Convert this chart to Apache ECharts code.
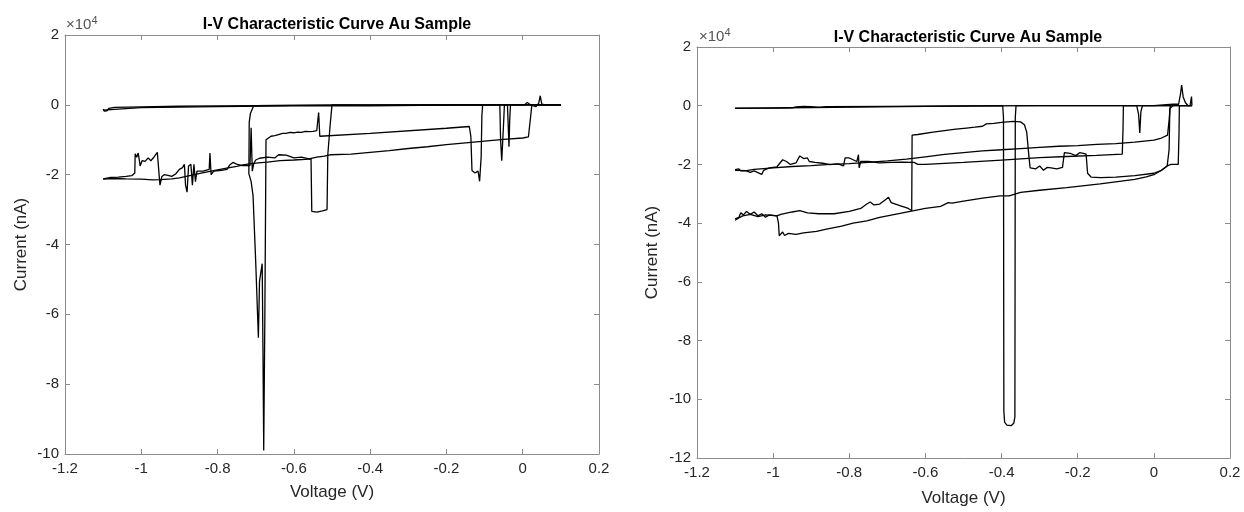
<!DOCTYPE html>
<html><head><meta charset="utf-8">
<script src="https://cdn.jsdelivr.net/npm/echarts@6/dist/echarts.min.js"></script>
<style>html,body{margin:0;padding:0;background:#fff}#c{width:1244px;height:512px}</style>
</head><body><div id="c"></div>
<script>
// Values in units of 1e4 nA (axis shows x10^4), x in volts
const xTicks = [-1.2, -1, -0.8, -0.6, -0.4, -0.2, 0, 0.2];
const leftYTicks = [2, 0, -2, -4, -6, -8, -10];
const rightYTicks = [2, 0, -2, -4, -6, -8, -10, -12];

// ---- Left panel ----
const leftZero1 = [[-1.1,-0.12],[-1.097,-0.18],[-1.09,-0.17],[-1.085,-0.1],[-1.07,-0.07],[-1.0,-0.06],[-0.9,-0.04],[-0.8,-0.03],[-0.7,-0.02],[-0.5,-0.01],[-0.3,0],[-0.06,0],[-0.058,-1.0],[-0.055,-1.6],[-0.052,-1.64],[-0.05,-0.5],[-0.048,0],[-0.04,0],[-0.038,-0.6],[-0.036,-1.2],[-0.034,-0.4],[-0.032,0],[0.0,0],[0.1,0]];
const leftZero2 = [[0.1,0],[0.06,0],[0.05,0.02],[0.046,0.26],[0.042,0.05],[0.035,-0.05],[0.02,0],[0.012,0.07],[0.005,0],[-0.2,-0.01],[-0.4,-0.03],[-0.6,-0.03],[-0.8,-0.05],[-1.0,-0.08],[-1.1,-0.15]];
const leftMid = [[-1.1,-2.12],[-1.08,-2.08],[-1.06,-2.07],[-1.04,-2.05],[-1.025,-2.03],[-1.017,-1.95],[-1.016,-1.4],[-1.012,-1.5],[-1.008,-1.38],[-1.003,-1.75],[-0.998,-1.6],[-0.99,-1.62],[-0.982,-1.52],[-0.975,-1.6],[-0.967,-1.5],[-0.958,-1.36],[-0.953,-1.33],[-0.951,-2.3],[-0.946,-2.05],[-0.94,-2.0],[-0.93,-2.02],[-0.92,-2.05],[-0.91,-1.98],[-0.9,-1.85],[-0.892,-1.8],[-0.887,-1.7],[-0.884,-2.3],[-0.88,-2.5],[-0.876,-1.75],[-0.87,-1.7],[-0.866,-2.3],[-0.862,-1.7],[-0.858,-2.2],[-0.854,-1.9],[-0.85,-1.95],[-0.838,-1.9],[-0.822,-1.85],[-0.82,-1.38],[-0.817,-2.0],[-0.81,-1.9],[-0.79,-1.88],[-0.775,-1.85],[-0.768,-1.72],[-0.76,-1.65],[-0.75,-1.7],[-0.735,-1.74],[-0.715,-1.74],[-0.712,-0.66],[-0.709,-1.9],[-0.705,-1.68],[-0.7,-1.58],[-0.69,-1.53],[-0.67,-1.5],[-0.65,-1.52],[-0.64,-1.43],[-0.62,-1.44],[-0.6,-1.52],[-0.58,-1.5],[-0.56,-1.55],[-0.54,-1.5],[-0.52,-1.47],[-0.505,-1.43],[-0.45,-1.41],[-0.4,-1.36],[-0.35,-1.31],[-0.3,-1.25],[-0.25,-1.2],[-0.2,-1.14],[-0.15,-1.09],[-0.1,-1.04],[-0.05,-0.99],[0.0,-0.95],[0.015,-0.92],[0.019,-0.9],[0.024,0],[0.1,0]];
const leftLow = [[-1.1,-2.13],[-1.07,-2.11],[-1.04,-2.12],[-1.0,-2.13],[-0.97,-2.15],[-0.95,-2.14],[-0.92,-2.12],[-0.9,-2.09],[-0.87,-2.02],[-0.84,-1.95],[-0.8,-1.86],[-0.776,-1.81],[-0.75,-1.76],[-0.73,-1.71],[-0.7,-1.67],[-0.67,-1.64],[-0.636,-1.6],[-0.6,-1.58],[-0.57,-1.56],[-0.555,-1.55],[-0.553,-3.05],[-0.54,-3.07],[-0.525,-3.04],[-0.513,-3.0],[-0.511,-1.43],[-0.505,-0.6],[-0.5,0],[-0.4,-0.01],[-0.2,0],[0.1,0]];
const leftUpper = [[0.1,0],[-0.1,0],[-0.3,-0.01],[-0.5,-0.01],[-0.705,-0.02],[-0.714,-0.25],[-0.717,-0.5],[-0.718,-1.97],[-0.712,-2.2],[-0.707,-2.6],[-0.7,-4.5],[-0.693,-6.67],[-0.69,-5.05],[-0.686,-5.0],[-0.683,-4.55],[-0.681,-7.0],[-0.679,-9.9],[-0.676,-6.0],[-0.673,-1.0],[-0.668,-0.98],[-0.66,-0.9],[-0.65,-0.88],[-0.64,-0.85],[-0.63,-0.82],[-0.62,-0.82],[-0.61,-0.79],[-0.6,-0.8],[-0.59,-0.78],[-0.58,-0.79],[-0.57,-0.76],[-0.56,-0.77],[-0.55,-0.76],[-0.54,-0.74],[-0.537,-0.72],[-0.535,-0.22],[-0.532,-0.9],[-0.528,-0.92],[-0.4,-0.82],[-0.2,-0.67],[-0.14,-0.62],[-0.136,-0.9],[-0.133,-1.88],[-0.125,-1.95],[-0.12,-2.0],[-0.117,-1.9],[-0.113,-2.19],[-0.109,-1.5],[-0.107,-0.3],[-0.105,0],[0.1,0]];

// ---- Right panel ----
const rightZero = [[-1.1,-0.08],[-1.0,-0.08],[-0.95,-0.07],[-0.94,-0.04],[-0.92,-0.02],[-0.9,-0.03],[-0.88,-0.06],[-0.86,-0.03],[-0.7,-0.02],[-0.5,-0.01],[-0.3,0],[-0.045,0],[-0.04,-0.3],[-0.037,-0.93],[-0.034,-0.2],[-0.03,0],[0.05,0],[0.095,0],[0.099,0.31],[0.1,0]];
const rightU = [[0.1,0],[0.09,0],[0.083,0.1],[0.077,0.3],[0.073,0.7],[0.07,0.4],[0.065,0.05],[0.05,0.05],[0.0,0],[-0.2,0],[-0.362,0],[-0.364,-0.4],[-0.365,-10.6],[-0.368,-10.82],[-0.375,-10.9],[-0.386,-10.88],[-0.392,-10.78],[-0.394,-10.4],[-0.395,-0.4],[-0.397,0],[-0.6,-0.02],[-0.9,-0.06],[-1.1,-0.09]];
const rightA = [[-1.1,-2.2],[-1.07,-2.21],[-1.05,-2.17],[-1.0,-2.12],[-0.95,-2.07],[-0.9,-2.04],[-0.85,-2.0],[-0.8,-1.97],[-0.75,-1.93],[-0.7,-1.88],[-0.65,-1.82],[-0.6,-1.74],[-0.55,-1.66],[-0.5,-1.6],[-0.45,-1.54],[-0.4,-1.5],[-0.35,-1.46],[-0.3,-1.42],[-0.25,-1.38],[-0.2,-1.36],[-0.15,-1.32],[-0.1,-1.29],[-0.05,-1.24],[0,-1.17],[0.02,-1.1],[0.036,-1.0],[0.04,-0.5],[0.043,0]];
const rightB = [[-1.1,-2.18],[-1.09,-2.15],[-1.085,-2.22],[-1.07,-2.22],[-1.06,-2.27],[-1.05,-2.22],[-1.04,-2.28],[-1.03,-2.34],[-1.025,-2.2],[-1.01,-2.12],[-0.99,-2.08],[-0.975,-1.84],[-0.965,-1.9],[-0.955,-2.0],[-0.94,-1.95],[-0.93,-1.71],[-0.92,-1.8],[-0.91,-1.78],[-0.905,-1.9],[-0.89,-1.93],[-0.87,-1.96],[-0.85,-2.01],[-0.83,-1.98],[-0.815,-2.05],[-0.811,-1.78],[-0.8,-1.78],[-0.79,-1.84],[-0.78,-1.9],[-0.776,-1.67],[-0.774,-2.12],[-0.77,-1.9],[-0.75,-1.9],[-0.72,-1.95],[-0.69,-1.93],[-0.66,-1.92],[-0.63,-1.93],[-0.62,-2.0],[-0.6,-2.0],[-0.5,-1.93],[-0.4,-1.85],[-0.3,-1.77],[-0.229,-1.73],[-0.15,-1.69],[-0.083,-1.65],[-0.081,-0.8],[-0.08,0],[0.1,0]];
const rightPlateau = [[-1.1,-3.85],[-1.09,-3.8],[-1.085,-3.65],[-1.078,-3.72],[-1.07,-3.6],[-1.06,-3.7],[-1.05,-3.62],[-1.04,-3.75],[-1.03,-3.68],[-1.02,-3.8],[-1.01,-3.72],[-0.99,-3.75],[-0.98,-3.7],[-0.95,-3.62],[-0.93,-3.57],[-0.91,-3.65],[-0.88,-3.68],[-0.84,-3.68],[-0.8,-3.6],[-0.77,-3.5],[-0.754,-3.35],[-0.745,-3.28],[-0.735,-3.38],[-0.72,-3.35],[-0.705,-3.2],[-0.697,-3.12],[-0.69,-3.3],[-0.667,-3.4],[-0.645,-3.5],[-0.636,-3.57],[-0.635,-1.0],[-0.62,-0.98],[-0.58,-0.9],[-0.55,-0.85],[-0.52,-0.8],[-0.492,-0.76],[-0.47,-0.73],[-0.45,-0.7],[-0.445,-0.76],[-0.44,-0.62],[-0.42,-0.6],[-0.4,-0.57],[-0.37,-0.53],[-0.35,-0.55],[-0.34,-0.65],[-0.334,-0.9],[-0.328,-1.75],[-0.325,-2.12],[-0.31,-2.15],[-0.3,-2.05],[-0.29,-2.2],[-0.28,-2.1],[-0.27,-2.12],[-0.255,-2.15],[-0.24,-2.1],[-0.235,-1.6],[-0.22,-1.62],[-0.205,-1.7],[-0.195,-1.6],[-0.185,-1.62],[-0.178,-1.65],[-0.174,-2.3],[-0.165,-2.43],[-0.14,-2.45],[-0.1,-2.43],[-0.05,-2.38],[0,-2.3],[0.02,-2.2],[0.035,-2.05],[0.04,-1.5],[0.042,-0.1],[0.05,0]];
const rightBottom = [[-1.1,-3.9],[-1.09,-3.82],[-1.08,-3.75],[-1.06,-3.7],[-1.04,-3.78],[-1.02,-3.72],[-0.99,-3.75],[-0.986,-4.0],[-0.984,-4.43],[-0.975,-4.3],[-0.97,-4.42],[-0.96,-4.35],[-0.94,-4.38],[-0.92,-4.33],[-0.886,-4.28],[-0.86,-4.2],[-0.82,-4.1],[-0.79,-4.0],[-0.754,-3.92],[-0.72,-3.8],[-0.68,-3.7],[-0.64,-3.6],[-0.6,-3.5],[-0.56,-3.43],[-0.54,-3.3],[-0.53,-3.32],[-0.5,-3.25],[-0.45,-3.15],[-0.404,-3.07],[-0.38,-3.07],[-0.35,-2.95],[-0.3,-2.88],[-0.229,-2.79],[-0.141,-2.66],[-0.05,-2.51],[-0.02,-2.42],[0.0,-2.35],[0.02,-2.2],[0.035,-2.05],[0.045,-2.0],[0.064,-2.0],[0.066,-1.0],[0.067,0],[0.1,0]];

const leftSeries = [leftZero1, leftZero2, leftMid, leftLow, leftUpper];
const rightSeries = [rightZero, rightU, rightA, rightB, rightPlateau, rightBottom];

const FONT = '"Liberation Sans", Arial, Helvetica, sans-serif';
const AX = '#262626';
const BOX = '#8c8c8c';
const xFmt = v => String(+(+v).toFixed(1));
const yFmt = v => String(Math.round(v));

function xAxes(gi, gap) {
  return [
    {gridIndex: gi, type: 'value', min: -1.2, max: 0.2, interval: 0.2, position: 'bottom',
     name: 'Voltage (V)', nameLocation: 'middle', nameGap: gap,
     nameTextStyle: {fontFamily: FONT, fontSize: 17, color: AX},
     axisLine: {show: true, onZero: false, lineStyle: {color: BOX, width: 1}},
     axisTick: {show: true, inside: true, length: 5, lineStyle: {color: BOX}},
     axisLabel: {fontFamily: FONT, fontSize: 15, color: AX, margin: 7, formatter: xFmt, showMinLabel: true, showMaxLabel: true},
     splitLine: {show: false}},
    {gridIndex: gi, type: 'value', min: -1.2, max: 0.2, interval: 0.2, position: 'top',
     axisLine: {show: true, onZero: false, lineStyle: {color: BOX, width: 1}},
     axisTick: {show: true, inside: true, length: 5, lineStyle: {color: BOX}},
     axisLabel: {show: false}, splitLine: {show: false}}
  ];
}
function yAxes(gi, min, gap) {
  return [
    {gridIndex: gi, type: 'value', min: min, max: 2, interval: 2, position: 'left',
     name: 'Current (nA)', nameLocation: 'middle', nameGap: gap,
     nameTextStyle: {fontFamily: FONT, fontSize: 17, color: AX},
     axisLine: {show: true, onZero: false, lineStyle: {color: BOX, width: 1}},
     axisTick: {show: true, inside: true, length: 5, lineStyle: {color: BOX}},
     axisLabel: {fontFamily: FONT, fontSize: 15, color: AX, margin: 6, formatter: yFmt, showMinLabel: true, showMaxLabel: true},
     splitLine: {show: false}},
    {gridIndex: gi, type: 'value', min: min, max: 2, interval: 2, position: 'right',
     axisLine: {show: true, onZero: false, lineStyle: {color: BOX, width: 1}},
     axisTick: {show: true, inside: true, length: 5, lineStyle: {color: BOX}},
     axisLabel: {show: false}, splitLine: {show: false}}
  ];
}

const series = [];
leftSeries.forEach(d => series.push({type: 'line', xAxisIndex: 0, yAxisIndex: 0, data: d, showSymbol: false, symbol: 'none',
  lineStyle: {color: '#000', width: 1.3}, silent: true}));
rightSeries.forEach(d => series.push({type: 'line', xAxisIndex: 2, yAxisIndex: 2, data: d, showSymbol: false, symbol: 'none',
  lineStyle: {color: '#000', width: 1.3}, silent: true}));

const supRich = {a: {fontFamily: FONT, fontSize: 15, fill: '#555'}, b: {fontFamily: FONT, fontSize: 11, fill: '#555', verticalAlign: 'top', padding: [0,0,9,0]}};

const chart = echarts.init(document.getElementById('c'), null, {renderer: 'canvas'});
chart.setOption({
  animation: false,
  backgroundColor: '#fff',
  title: [
    {text: 'I-V Characteristic Curve Au Sample', left: 332, top: 12, textAlign: 'center',
     textStyle: {fontFamily: FONT, fontSize: 16, fontWeight: 'bold', color: '#000'}},
    {text: 'I-V Characteristic Curve Au Sample', left: 963, top: 25, textAlign: 'center',
     textStyle: {fontFamily: FONT, fontSize: 16, fontWeight: 'bold', color: '#000'}}
  ],
  grid: [
    {left: 65, top: 35, width: 534, height: 419, containLabel: false},
    {left: 697, top: 47, width: 533, height: 418, containLabel: false}
  ],
  xAxis: [...xAxes(0, 30), ...xAxes(1, 32)],
  yAxis: [...yAxes(0, -10, 35), ...yAxes(1, -12, 36)],
  graphic: [
    {type: 'text', left: 66, top: 15, style: {text: '{a|×10}{b|4}', rich: supRich}},
    {type: 'text', left: 699, top: 27, style: {text: '{a|×10}{b|4}', rich: supRich}}
  ],
  series: series
});
</script>
</body></html>
